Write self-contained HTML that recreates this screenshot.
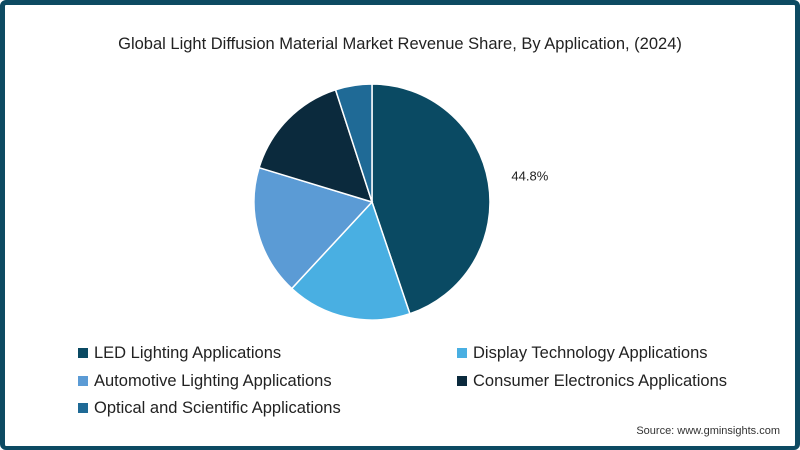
<!DOCTYPE html>
<html><head><meta charset="utf-8"><style>
body{margin:0;width:800px;height:450px;overflow:hidden;background:#fff;font-family:"Liberation Sans",sans-serif}
#frame{position:absolute;left:0;top:0;width:790px;height:441px;border:5px solid #0d4a62;border-bottom-width:4px;border-radius:6px;background:#fff}
#title{position:absolute;left:0;width:800px;top:35px;text-align:center;font-size:16.5px;color:#222}
.leg{position:absolute;font-size:16.5px;color:#222;height:20px;line-height:20px}
.sw{display:inline-block;width:10px;height:10px;margin-right:6px;vertical-align:0px}
#src{position:absolute;right:20px;top:425px;font-size:11px;color:#333}
</style></head><body>
<div id="frame"></div>
<div id="title">Global Light Diffusion Material Market Revenue Share, By Application, (2024)</div>
<svg id="pie" width="800" height="450" style="position:absolute;left:0;top:0"></svg>
<div class="leg" style="left:78px;top:343px"><span class="sw" style="background:#0a4a63"></span>LED Lighting Applications</div>
<div class="leg" style="left:457px;top:343px"><span class="sw" style="background:#49afe2"></span>Display Technology Applications</div>
<div class="leg" style="left:78px;top:371px"><span class="sw" style="background:#5b9bd5"></span>Automotive Lighting Applications</div>
<div class="leg" style="left:457px;top:371px"><span class="sw" style="background:#0b2a3d"></span>Consumer Electronics Applications</div>
<div class="leg" style="left:78px;top:398px"><span class="sw" style="background:#1f6a96"></span>Optical and Scientific Applications</div>
<div id="src">Source: www.gminsights.com</div>
<script>
const categories=["LED Lighting Applications","Display Technology Applications","Automotive Lighting Applications","Consumer Electronics Applications","Optical and Scientific Applications"];
const values=[44.8,17.1,17.8,15.3,5.0];
const labels=["44.8%","","","",""];
const colors=["#0a4a63","#49afe2","#5b9bd5","#0b2a3d","#1f6a96"];
const svg=document.getElementById('pie');
const NS="http://www.w3.org/2000/svg";
const cx=372,cy=202,r=118;
const total=values.reduce((a,b)=>a+b,0);
function pt(a,rr){return [cx+rr*Math.sin(a),cy-rr*Math.cos(a)];}
let acc=0;
values.forEach((v,i)=>{
  const a0=acc/total*2*Math.PI; acc+=v; const a1=acc/total*2*Math.PI;
  const p0=pt(a0,r),p1=pt(a1,r);
  const p=document.createElementNS(NS,'path');
  p.setAttribute('d',`M${cx},${cy}L${p0[0]},${p0[1]}A${r},${r} 0 ${a1-a0>Math.PI?1:0} 1 ${p1[0]},${p1[1]}Z`);
  p.setAttribute('fill',colors[i]);p.setAttribute('stroke','#fff');p.setAttribute('stroke-width','1.5');
  
  
  svg.appendChild(p);
  if(labels[i]){
    const am=(a0+a1)/2;const lp=pt(am,r+45);
    const t=document.createElementNS(NS,'text');
    t.setAttribute('x',lp[0]-3);t.setAttribute('y',lp[1]+5);
    t.setAttribute('font-size','13');t.setAttribute('fill','#222');t.setAttribute('text-anchor','middle');
    t.setAttribute('font-family','Liberation Sans, sans-serif');
    t.textContent=labels[i];
    
    
    svg.appendChild(t);
  }
});
</script>
</body></html>
